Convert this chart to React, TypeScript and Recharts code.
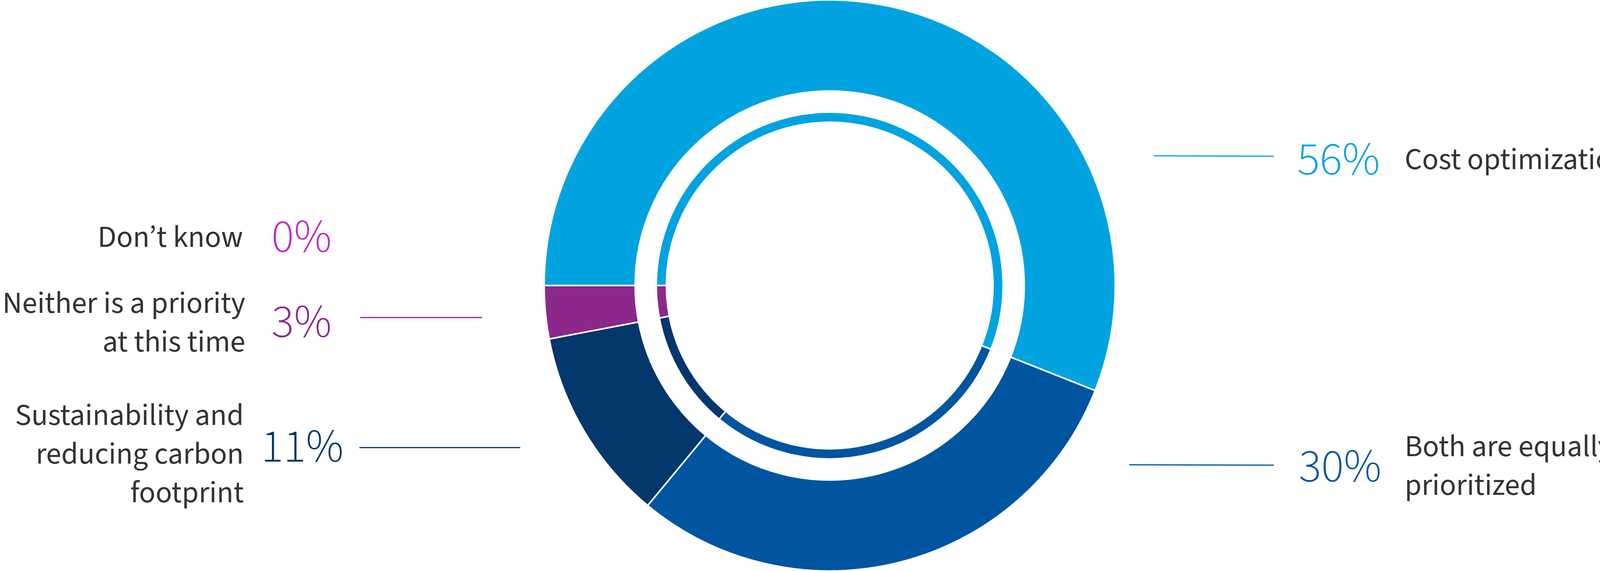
import { Cell, Pie, PieChart } from "recharts";

const categories = [
  "Cost optimization",
  "Both are equally prioritized",
  "Sustainability and reducing carbon footprint",
  "Neither is a priority at this time",
  "Don’t know",
];
const shares = [56, 30, 11, 3, 0];
const sliceColors = ["#00A3E0", "#0055A0", "#04376C", "#8C288C", "#BE2CBE"];

// label text split into lines as in the original
const nameLines = [
  ["Cost optimization"],
  ["Both are equally", "prioritized"],
  ["Sustainability and", "reducing carbon", "footprint"],
  ["Neither is a priority", "at this time"],
  ["Don’t know"],
];

const data = categories.map((name, i) => ({ name, value: shares[i] }));

// where each callout sits, in chart pixels
const calloutLayout = [
  { side: "right", line: [2954, 399, 3261, 400], pctX: 3321, pctY: 447, nameX: 3596, nameY: 433 },
  { side: "right", line: [2891, 1190, 3261, 1191], pctX: 3325, pctY: 1233, nameX: 3596, nameY: 1168 },
  { side: "left", line: [920, 1146, 1332, 1146], pctX: 668, pctY: 1182, nameX: 624, nameY: 1088 },
  { side: "left", line: [922, 813, 1234, 813], pctX: 695, pctY: 863, nameX: 628, nameY: 801 },
  { side: "left", line: null, pctX: 695, pctY: 645, nameX: 622, nameY: 632 },
];

const WIDTH = 4180;
const HEIGHT = 1462;
const LINE_GAP = 99;
const FONT = "'Source Sans 3', Lato, sans-serif";

function renderCallout(props: any) {
  const i = props.index as number;
  const layout = calloutLayout[i];
  const color = sliceColors[i];
  const lines = nameLines[i];
  return (
    <g key={`callout-${i}`}>
      {layout.line && (
        <line
          x1={layout.line[0]}
          y1={layout.line[1]}
          x2={layout.line[2]}
          y2={layout.line[3]}
          stroke={color}
          strokeWidth={3}
        />
      )}
      <text
        x={layout.pctX}
        y={layout.pctY}
        fill={color}
        fontSize={120}
        fontWeight={300}
        fontFamily={FONT}
        textAnchor="start"
      >
        {`${shares[i]}%`}
      </text>
      {lines.map((ln, k) => (
        <text
          key={k}
          x={layout.nameX}
          y={layout.nameY + k * LINE_GAP}
          fill="#333333"
          fontSize={78}
          fontFamily={FONT}
          textAnchor={layout.side === "left" ? "end" : "start"}
        >
          {ln}
        </text>
      ))}
    </g>
  );
}

export default function App() {
  return (
    <div style={{ position: "absolute", left: 0, top: 0, width: WIDTH, height: HEIGHT, background: "#fff" }}>
      <PieChart width={WIDTH} height={HEIGHT} margin={{ top: 0, right: 0, bottom: 0, left: 0 }}>
        <Pie
          data={data}
          dataKey="value"
          nameKey="name"
          cx={2124}
          cy={731}
          innerRadius={498}
          outerRadius={731}
          startAngle={180}
          endAngle={-180}
          stroke="#fff"
          strokeWidth={4}
          label={renderCallout}
          labelLine={false}
          isAnimationActive={false}
        >
          {data.map((d, i) => (
            <Cell key={d.name} fill={sliceColors[i]} />
          ))}
        </Pie>
        <Pie
          data={data}
          dataKey="value"
          nameKey="name"
          cx={2124}
          cy={731}
          innerRadius={418}
          outerRadius={444}
          startAngle={180}
          endAngle={-180}
          stroke="#fff"
          strokeWidth={4}
          label={false}
          labelLine={false}
          isAnimationActive={false}
        >
          {data.map((d, i) => (
            <Cell key={d.name} fill={sliceColors[i]} />
          ))}
        </Pie>
      </PieChart>
    </div>
  );
}
